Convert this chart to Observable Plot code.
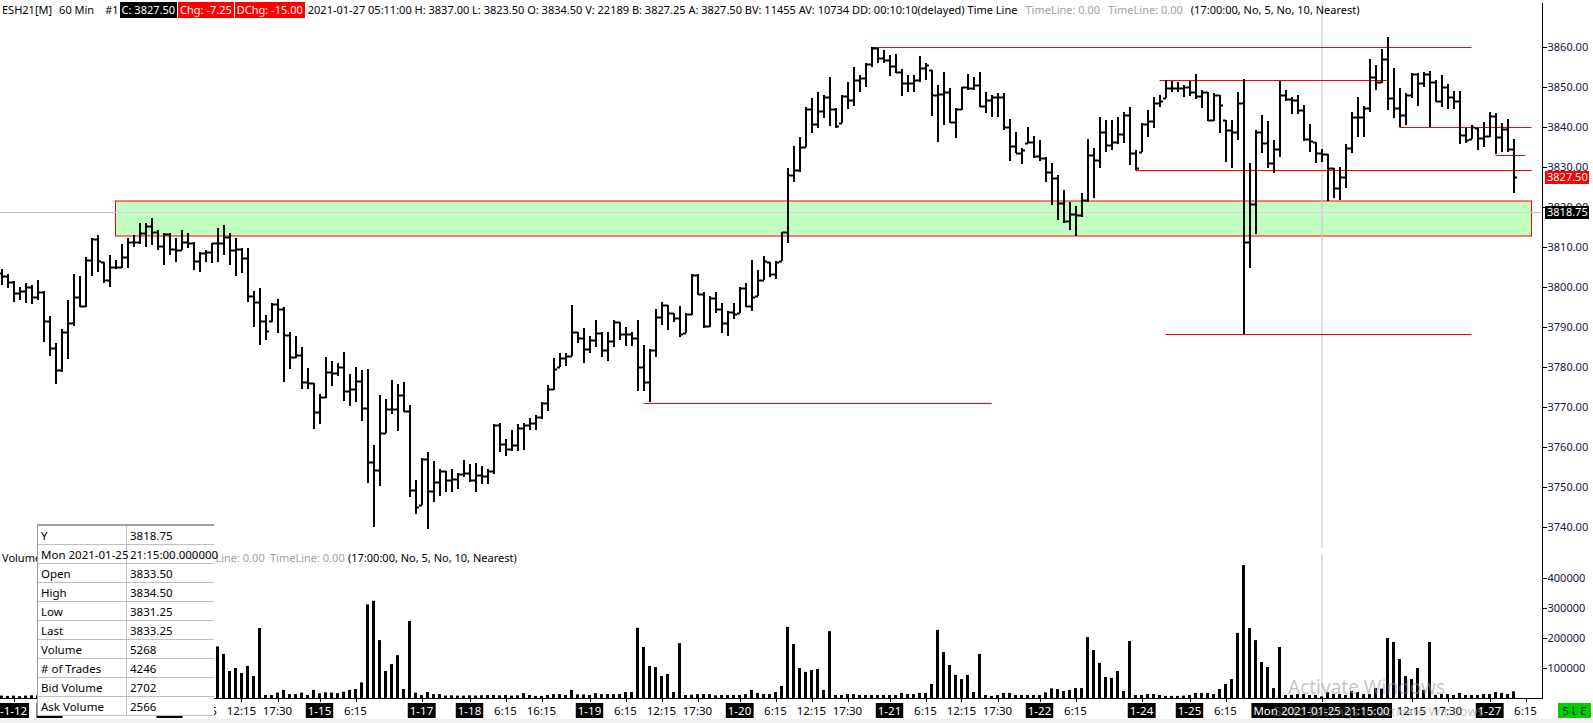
<!DOCTYPE html>
<html><head><meta charset="utf-8">
<script src="https://cdn.jsdelivr.net/npm/d3@7"></script>
<script src="https://cdn.jsdelivr.net/npm/@observablehq/plot@0.6"></script>
<style>
html,body{margin:0;padding:0;background:#fff;}
#root{position:relative;width:1593px;height:723px;overflow:hidden;font-family:"Noto Sans",sans-serif;font-size:11px;color:#000;}
#root svg{position:absolute;left:0;}
.hdr{position:absolute;left:2px;top:2px;height:16px;white-space:nowrap;display:flex;align-items:center;line-height:16px;}
.box{color:#fff;padding:0 2px;height:16px;margin-right:1px;}
.gray{color:#a0a0a0;}
#dw{position:absolute;left:37px;top:524px;width:176px;background:#fff;border-top:2px solid #a0a0a0;border-left:1px solid #a0a0a0;}
#dw table{border-collapse:collapse;width:176px;table-layout:fixed;}
#dw td{height:18px;padding:0 0 0 3px;border-bottom:1px solid #c0c0c0;white-space:nowrap;overflow:visible;font-size:11.5px;}
#dw td.k{width:85px;border-right:1px solid #c0c0c0;}
.wm{position:absolute;color:rgba(150,150,150,0.55);white-space:nowrap;}
</style></head><body><div id="root"></div>
<script>
// ---------- data ----------
const opens = [
3803.5,3802.75,3801.25,3798.5,3799,3800,3797.5,3798.75,3791.5,3784.75,
3779.25,3788.75,3791,3797.5,3795.25,3806.75,3812,3806.25,3801.75,3805,
3805,3807.5,3811.25,3811.25,3813.5,3815.25,3813.75,3810.25,3813.25,3809.5,
3809.25,3811.25,3811,3806.5,3808.5,3808.75,3811,3811,3812.5,3809.25,
3809.5,3807.25,3797.75,3796.25,3791.5,3791.5,3795.75,3794.5,3788,3782.5,
3783,3776.25,3776,3768.75,3772.5,3778.75,3778.5,3780,3774,3774.5,
3776.5,3769.75,3756.25,3754.25,3763.5,3769.5,3769.5,3773,3769,3749.25,
3745.5,3757,3749,3751.25,3754,3751.75,3752,3753.25,3753.5,3751.75,
3753,3752.75,3754,3765.5,3760.75,3759.5,3760.5,3764.75,3765.5,3766,
3767.5,3771,3774.5,3780,3782.25,3782.75,3788.75,3787.25,3784.5,3786.75,
3788.5,3784.25,3786.5,3791.25,3788.25,3788.25,3787.25,3780,3776.25,3784.25,
3792.5,3795.5,3793.5,3792.25,3788.5,3793.25,3803,3798.25,3790.25,3797.25,
3794.5,3791,3793.75,3793.5,3799.75,3795.25,3797.75,3801.75,3806.25,3803.25,
3806.5,3813.75,3828,3829.25,3835,3844.5,3840.75,3844,3847.5,3844.5,
3841,3847.75,3846.75,3851.75,3852.25,3855.75,3859.75,3857.25,3856.75,3855.25,
3853.75,3851,3851,3851.75,3854.75,3854.25,3848,3848.25,3848.75,3841.25,
3844.5,3850,3849.75,3850.5,3845.25,3846.75,3847.5,3847.5,3840,3835.25,
3833.5,3836,3836.25,3832.75,3832.25,3828.75,3827.25,3821,3816.5,3818.25,
3818,3821.75,3833,3831.75,3838.75,3835.5,3836.25,3838.25,3843,3833.5,
3833.75,3840.75,3841.5,3846,3847.25,3849.75,3849.75,3849.75,3850,3848.75,
3847.75,3848.75,3841.75,3848,3841.75,3839.25,3838.75,3846,3811.25,3820.75,
3838.75,3836,3831,3834.5,3848,3847,3846.75,3844.25,3837,3836.25,
3833.5,3833.25,3829.75,3824.75,3827.5,3834.75,3842.5,3842.5,3844.75,3852.5,
3851.25,3857,3847.25,3844.75,3843,3848,3853.25,3851,3853.25,3851.25,
3846.5,3850,3847.5,3846.5,3838,3837,3839.75,3837.25,3837.75,3842.75,
3837.5,3839.5,3834.5];
const highs = [
3804.5,3803.25,3801.5,3800,3801,3800.5,3801.75,3799,3792.75,3786,
3789.5,3796.75,3803.25,3802.75,3807.5,3812.25,3813,3806.25,3808,3806.75,
3810.75,3812.25,3813,3816,3816,3817.25,3814.25,3813.5,3813.5,3812.25,
3814.25,3813.5,3811.25,3808.75,3809.25,3811,3814.75,3815.5,3813.5,3812.25,
3809.75,3809.75,3799,3799.75,3793,3796,3797,3795,3788.75,3787.75,
3785,3779.75,3776,3773.25,3782.5,3781.5,3781,3783.75,3778.25,3780,
3779.25,3779.5,3760.5,3773,3772,3776.75,3775.75,3776.25,3770.5,3751.75,
3757.25,3758.75,3756.5,3754.5,3754,3754.5,3753.5,3756.75,3755.75,3756,
3755.25,3754.5,3765.75,3766,3762,3764.25,3765.75,3766,3767.25,3768,
3771.25,3775.5,3782.25,3783.5,3783.5,3795.5,3788.75,3789.75,3787.75,3791.75,
3788.75,3788.75,3791.75,3791.25,3790,3788.75,3791.75,3785.5,3784.5,3794.5,
3796.25,3795.5,3793.5,3795.25,3793.5,3803.25,3803.25,3798.75,3797.75,3798.75,
3796,3794,3796,3800,3801,3806.75,3804.25,3807.75,3806.25,3806.5,
3813.75,3829.75,3835.25,3837.5,3845,3847.25,3848.75,3848,3852.5,3844.75,
3848,3851.25,3855,3853,3856,3860,3859.75,3859.25,3858,3858.25,
3854.5,3853,3853,3857.75,3856,3854.25,3850.5,3853.75,3849.75,3844.75,
3850,3853.25,3852.5,3853.75,3848.75,3848,3848.5,3848.5,3842,3838.75,
3834.75,3840,3837.75,3836.75,3832.5,3831,3828,3824.25,3821.25,3820.25,
3823.5,3837,3834.75,3842.5,3841.75,3841.75,3842.5,3843.75,3845,3834.25,
3841,3844.25,3847.5,3848,3851.75,3851.5,3851.25,3850.5,3851.5,3853.25,
3849.25,3848.75,3848.5,3848,3841.75,3841.75,3848.75,3852,3831,3839.25,
3843,3841.5,3836.75,3851.5,3849.25,3847.5,3848,3845.5,3840.75,3836.25,
3834.5,3833.25,3829.75,3830,3835.75,3843.75,3847.5,3845.25,3857,3855.5,
3859.5,3862.5,3854.75,3849.75,3848.5,3853.5,3853.5,3853.75,3854,3851.75,
3853,3850.75,3849,3849,3839.75,3840.5,3839.75,3841.25,3843.75,3843.5,
3841,3842,3837];
const lows = [
3800.5,3799.75,3796.25,3796.75,3796,3795.75,3796.75,3786.25,3782.75,3775.75,
3778.75,3782,3790.25,3795,3795,3802.75,3803.75,3801,3800,3804.5,
3804.75,3804.75,3810,3810.75,3810,3810.5,3809.25,3805.5,3808,3806.25,
3809.25,3809.75,3804.25,3803.75,3806.25,3806,3806.25,3808,3805.5,3802.75,
3803.5,3796.25,3790,3785.5,3786.75,3791.25,3788.5,3776.25,3779.5,3782.25,
3774.5,3774.5,3764.5,3765.75,3772.25,3775.25,3777.75,3771.5,3770.25,3771.25,
3766.5,3751,3740,3750.25,3763.5,3768.25,3764,3768.75,3747.5,3743.25,
3745.5,3739.5,3746.25,3747.75,3748.75,3748.75,3749.5,3752.5,3751.25,3748.75,
3750.75,3750.75,3753.25,3758.75,3757.75,3759,3759,3759.25,3764.25,3764.25,
3767,3769,3774.25,3780,3780.25,3782.75,3786,3781,3783.5,3785,
3782.5,3781.5,3785,3786.75,3785.25,3785.25,3774,3774,3771.25,3782.5,
3790.5,3789.25,3791.25,3787.5,3788.5,3793,3798,3789.75,3790,3793.5,
3788.5,3787.75,3792,3793.5,3795,3794,3797.75,3801.75,3802.5,3802,
3806.5,3811,3826.25,3828.75,3835,3838.5,3839.75,3842.25,3840.25,3839.75,
3841,3844.5,3845.25,3848.75,3850,3855,3856,3856,3852.75,3853.5,
3847.75,3848.75,3848.75,3851.25,3851.75,3842.75,3836.25,3840.5,3841,3837.25,
3844.25,3849.25,3849.25,3845,3843.5,3842.5,3842.5,3839.25,3831.5,3833.5,
3830.75,3836,3832.25,3831.5,3826.25,3820.5,3816.75,3816,3814.25,3812.75,
3817.5,3821.25,3822.25,3829.75,3833.75,3834.25,3835.75,3836,3830.5,3829.25,
3833.75,3837.5,3839.75,3845,3847.25,3848.75,3848.75,3847.5,3847.75,3847,
3844.75,3841.5,3841.5,3838.5,3831.25,3829.75,3836.75,3788.25,3804.75,3813.25,
3833.5,3829.75,3828.5,3832.5,3846.5,3843.25,3843.25,3836.5,3833.75,3831,
3831.25,3821.5,3822.25,3821.75,3824.75,3833.5,3837.5,3837.5,3843.75,3849.25,
3851,3844.25,3842.25,3840,3840.5,3847.25,3845.25,3850,3840,3846.25,
3845,3844.5,3844.5,3835.75,3836,3837,3834.25,3835,3837.5,3833.25,
3833.75,3833.75,3823.5];
const closes = [
3802.75,3801.25,3798.5,3799,3800,3797.5,3798.75,3791.5,3784.75,3779.25,
3788.75,3791,3797.5,3795.25,3806.75,3812,3806.5,3801.75,3805,3805,
3807.5,3811.25,3811.25,3813.5,3815.25,3813.75,3810.25,3813.25,3809.5,3809.25,
3811.25,3811,3806.5,3808.5,3808.75,3811,3811,3812.5,3809.25,3809.5,
3807.25,3797.75,3796.25,3791.5,3789,3795.75,3794.5,3788,3782.5,3783,
3776.25,3776,3768.75,3772.5,3778.75,3778.5,3780,3774,3774.5,3776.5,
3769.75,3756.25,3754.25,3763.5,3769.5,3769.5,3773,3769,3749.25,3745,
3757,3749,3751.25,3754,3751.75,3752,3753.25,3753.5,3751.75,3753,
3752.75,3754,3765.5,3760.75,3759.5,3760.5,3764.75,3765.5,3766,3767.5,
3771,3774.5,3779.5,3782.25,3782.75,3788.75,3787.25,3784.5,3786.75,3788.5,
3784.25,3786.5,3791.25,3788.25,3788.25,3787.25,3780,3776.25,3784.25,3792.5,
3795.5,3793.5,3792.25,3788.25,3793.25,3803,3798.25,3790.25,3797.25,3794.5,
3791,3793.75,3793.25,3799.75,3795.25,3797.5,3801.75,3806.5,3803.25,3806.25,
3813.75,3828,3829.25,3835,3844.5,3840.75,3844,3847.5,3844.5,3840.25,
3847.75,3846.75,3851.75,3852.25,3855.75,3859.75,3857.25,3856.75,3855.25,3853.75,
3851,3851,3851.75,3854.75,3855.5,3848,3848.25,3848.75,3841.25,3844.5,
3850,3849.75,3850.5,3845.25,3846.75,3847.5,3847.5,3840,3835.25,3833.5,
3834.25,3836.25,3832.75,3832.25,3828.75,3827.25,3821,3816.5,3818.25,3818,
3821.75,3833,3831.75,3838.75,3835.5,3836.25,3838.25,3843,3833.5,3829.75,
3840.75,3841.5,3846,3846.5,3849.75,3849.75,3849.75,3850,3848.75,3847.75,
3848.75,3841.75,3848,3845.5,3839.25,3838.75,3846,3811.25,3820.75,3838.75,
3836,3831,3834.5,3848,3847,3846.75,3844.25,3837,3836.5,3833.5,
3833.25,3829.75,3824.75,3827.5,3834.75,3842.5,3842.5,3844.75,3852.5,3851.25,
3857,3847.25,3844.75,3843,3848,3853.25,3851,3853.25,3851.25,3846.5,
3850,3847.5,3846.5,3838,3836.75,3840,3837.25,3837.75,3842.75,3837.5,
3839.5,3834.5,3827.5];
const volumes = [
8000,7000,8000,6000,8000,9000,9000,10000,12000,15000,
40000,210000,160000,120000,95000,80000,90000,25000,180000,12000,
10000,9000,10000,9000,8000,8000,9000,8000,9000,10000,
10000,12000,15000,18000,22000,45000,172000,147000,90000,100000,
83000,107000,73000,233000,10000,10000,18000,27000,13000,13000,
18000,10000,27000,16000,19000,18000,16000,21000,27000,30000,
52000,312000,324000,193000,90000,113000,143000,30000,257000,18000,
10000,20000,13000,13000,8000,9000,8000,8000,9000,8000,
9000,10000,10000,9000,10000,8000,9000,16000,10000,7000,
7000,10000,13000,13000,10000,27000,12000,12000,10000,16000,
13000,13000,13000,13000,20000,20000,234000,170000,107000,103000,
73000,80000,20000,183000,10000,11000,13000,13000,13000,9000,
10000,10000,10000,10000,13000,27000,17000,13000,13000,20000,
40000,237000,180000,100000,87000,93000,97000,27000,223000,10000,
10000,13000,13000,10000,10000,10000,10000,10000,10000,10000,
17000,13000,13000,17000,17000,47000,227000,153000,110000,77000,
63000,77000,20000,147000,10000,7000,10000,17000,17000,10000,
10000,10000,10000,10000,19000,32000,30000,23000,27000,33000,
33000,203000,160000,117000,70000,67000,90000,23000,190000,10000,
10000,13000,13000,10000,7000,7000,7000,8000,10000,17000,
17000,17000,13000,30000,47000,63000,217000,443000,233000,193000,
120000,103000,33000,170000,10000,10000,13000,13000,10000,10000,
5268,19000,13000,13000,10000,23000,20000,13000,13000,33000,
31000,200000,187000,130000,73000,63000,100000,27000,187000,10000,
13000,13000,10000,17000,10000,10000,10000,13000,13000,20000,
17000,13000,22189];

// horizontal levels (price, from bar, to bar)
const levelPrice = [3860, 3851.75, 3840, 3833, 3829.25, 3788.25, 3771];
const levelFrom  = [145, 193, 233, 249, 189, 194, 107];
const levelTo    = [245, 231, 255, 254, 255, 245, 165];
// support zone
const zoneLow = 3812.75, zoneHigh = 3821.5, zoneFrom = 19, zoneTo = 255;
// crosshair
const crossBar = 220, crossPrice = 3818.75;
const lastPrice = 3827.50;
const priceTicks = [3740,3750,3760,3770,3780,3790,3800,3810,3820,3830,3840,3850,3860];
const volTicks = [100000,200000,300000,400000];
// visible date labels, plus date boxes hidden behind the data window (no visible text)
const dateLabels = ["-1-12","1-15","1-17","1-18","1-19","1-20","1-21","1-22","1-24","1-25","1-27"];
const dateIdx    = [2, 53, 70, 78, 98, 123, 148, 173, 190, 198, 248];
const hiddenDateIdx = [8, 28];
const timeLabels = ["6:15","12:15","17:30","6:15","6:15","16:15","6:15","12:15","17:30","6:15","12:15","17:30","6:15","12:15","17:30","6:15","6:15","12:15","17:30","6:15"];
const timeIdx    = [34,40,46,59,84,90,104,110,116,129,135,141,154,160,166,179,204,235,241,254];
const crossLabel = "Mon 2021-01-25 21:15:00";
const dataWindow = [["Y","3818.75"],["Mon 2021-01-25","21:15:00.000000"],["Open","3833.50"],["High","3834.50"],["Low","3831.25"],["Last","3833.25"],["Volume","5268"],["# of Trades","4246"],["Bid Volume","2702"],["Ask Volume","2566"]];

// ---------- build ----------
const root = document.getElementById("root");
const bars = highs.map((h,i)=>({i, o:opens[i], h, l:lows[i], c:closes[i]}));
const vols = volumes.map((v,i)=>({i, v}));
const levels = levelPrice.map((p,k)=>({p, a:levelFrom[k], b:levelTo[k]}));
const FONT = "Noto Sans, sans-serif";
const xOpt = {type:"linear", domain:[0,252], range:[1.5,1513.5], axis:null};

const price = Plot.plot({
  width:1593, height:549, marginTop:3, marginRight:51, marginBottom:1, marginLeft:0,
  style:{fontFamily:FONT, fontSize:"11px", background:"#fff", overflow:"visible"},
  x:xOpt,
  y:{domain:[3740,3860], range:[527,47], axis:null},
  marks:[
    Plot.rect([{a:zoneFrom,b:zoneTo,lo:zoneLow,hi:zoneHigh}], {x1:"a", x2:"b", y1:"lo", y2:"hi", fill:"#c0ffc0", stroke:"#ff0000", strokeWidth:1}),
    Plot.ruleY([crossPrice], {stroke:"#c0c0c0"}),
    Plot.ruleY([{p:crossPrice}], {y:"p", x1:()=>zoneFrom, x2:()=>zoneTo, stroke:"#ecc8ec"}),
    Plot.ruleX([crossBar], {stroke:"#c0c0c0"}),
    Plot.ruleX([{i:crossBar}], {x:"i", y1:()=>zoneLow, y2:()=>zoneHigh, stroke:"#ecc8ec"}),
    Plot.ruleY(levels, {y:"p", x1:"a", x2:"b", stroke:"#ff0000", strokeWidth:1}),
    Plot.ruleX(bars, {x:"i", y1:"l", y2:"h", stroke:"#000", strokeWidth:2}),
    Plot.link(bars, {x1:d=>d.i-0.5, x2:"i", y1:"o", y2:"o", stroke:"#000", strokeWidth:2}),
    Plot.link(bars, {x1:"i", x2:d=>d.i+0.5, y1:"c", y2:"c", stroke:"#000", strokeWidth:2}),
    Plot.axisY(priceTicks, {anchor:"right", tickSize:4, tickPadding:1, tickFormat:d3.format(".2f"), label:null, fill:"#14143c", stroke:"#000"}),
    Plot.frame({anchor:"right", stroke:"#000"}),
    Plot.frame({anchor:"bottom", stroke:"#000"})
  ]
});
price.style.top = "0px";
root.appendChild(price);

// price labels (last & crosshair)
{
  const ys = price.scale("y");
  const g = d3.select(price).append("g").attr("font-family", FONT).attr("font-size", 11).attr("text-anchor", "start");
  [[lastPrice, "#ff0000"], [crossPrice, "#000"]].forEach(([p, bg]) => {
    const y = ys.apply(p);
    g.append("rect").attr("x", 1545).attr("y", Math.round(y) - 6).attr("width", 44).attr("height", 13).attr("fill", bg);
    g.append("text").attr("x", 1547).attr("y", y).attr("dy", "0.35em").attr("text-anchor", "start").attr("fill", "#fff").text(d3.format(".2f")(p));
  });
}

const vol = Plot.plot({
  width:1593, height:175, marginTop:0, marginRight:51, marginBottom:25, marginLeft:0,
  style:{fontFamily:FONT, fontSize:"11px", background:"#fff", overflow:"visible"},
  x:xOpt,
  y:{domain:[0,400000], range:[150,30], axis:null},
  marks:[
    Plot.ruleX([crossBar], {stroke:"#c0c0c0", y1:()=>0, y2:()=>480000}),
    Plot.rect(vols, {x1:d=>d.i-0.25, x2:d=>d.i+0.25, y1:()=>0, y2:"v", fill:"#000"}),
    Plot.axisY(volTicks, {anchor:"right", tickSize:4, tickPadding:1, tickFormat:d3.format("d"), label:null, fill:"#14143c", stroke:"#000"}),
    Plot.frame({anchor:"right", stroke:"#000"}),
    Plot.frame({anchor:"bottom", stroke:"#000"})
  ]
});
vol.style.top = "548px";
root.appendChild(vol);

// bottom time axis labels
{
  const xs = vol.scale("x");
  const g = d3.select(vol).append("g").attr("font-family", FONT).attr("font-size", 11.5);
  const y = 163;
  const tick = idx => g.append("line").attr("x1", Math.round(xs.apply(idx))+0.5).attr("x2", Math.round(xs.apply(idx))+0.5).attr("y1", 150).attr("y2", 154).attr("stroke", "#000");
  timeIdx.forEach((idx,k)=>{ tick(idx); g.append("text").attr("x", xs.apply(idx)).attr("y", y).attr("dy","0.35em").attr("text-anchor","middle").attr("fill","#000").text(timeLabels[k]); });
  hiddenDateIdx.forEach(idx => { g.append("rect").attr("fill","#000").attr("x", xs.apply(idx) - 13).attr("y", 155).attr("width", 26).attr("height", 15); });
  const boxLabel = (idx, txt) => {
    tick(idx);
    const r = g.append("rect").attr("fill","#000");
    const t = g.append("text").attr("x", xs.apply(idx)).attr("y", y).attr("dy","0.35em").attr("text-anchor","middle").attr("fill","#fff").text(txt);
    const bb = t.node().getBBox();
    r.attr("x", bb.x - 2).attr("y", 155).attr("width", bb.width + 4).attr("height", 15);
  };
  dateIdx.forEach((idx,k)=>boxLabel(idx, dateLabels[k]));
  boxLabel(crossBar, crossLabel);
}

// header
const hdr = document.createElement("div");
hdr.className = "hdr";
hdr.innerHTML = '<span>ESH21[M]</span><span style="margin-left:7px">60 Min</span><span style="margin-left:11px">#1</span>' +
  '<span class="box" style="background:#000;margin-left:1px">C: 3827.50</span>' +
  '<span class="box" style="background:#ff0000">Chg: -7.25</span>' +
  '<span class="box" style="background:#ff0000">DChg: -15.00</span>' +
  '<span style="margin-left:2px">2021-01-27 05:11:00 H: 3837.00 L: 3823.50 O: 3834.50 V: 22189 B: 3827.25 A: 3827.50 BV: 11455 AV: 10734 DD: 00:10:10(delayed) Time Line</span>' +
  '<span class="gray" style="margin-left:8px">TimeLine: 0.00</span><span class="gray" style="margin-left:8px">TimeLine: 0.00</span>' +
  '<span style="margin-left:8px">(17:00:00, No, 5, No, 10, Nearest)</span>';
root.appendChild(hdr);

// volume region header
const vh = document.createElement("div");
vh.className = "hdr";
vh.style.top = "550px";
vh.innerHTML = '<span>Volume</span><span class="gray" style="position:absolute;left:188px">TimeLine: 0.00</span><span class="gray" style="position:absolute;left:268px">TimeLine: 0.00</span><span style="position:absolute;left:346px">(17:00:00, No, 5, No, 10, Nearest)</span>';
root.appendChild(vh);

// data window
const dw = document.createElement("div");
dw.id = "dw";
dw.innerHTML = "<table>" + dataWindow.map(([k,v])=>`<tr><td class="k">${k}</td><td>${v}</td></tr>`).join("") + "</table>";
root.appendChild(dw);

// status box and bottom strip
const strip = document.createElement("div");
strip.style.cssText = "position:absolute;left:0;top:719px;width:1593px;height:4px;background:#f0f0f0;";
root.appendChild(strip);
const sle = document.createElement("div");
sle.style.cssText = "position:absolute;left:1558px;top:703px;width:33px;height:15px;background:#00cc00;color:#003300;font-size:11px;line-height:15px;text-align:center;";
sle.textContent = "5 L E";
root.appendChild(sle);

// watermark
const wm1 = document.createElement("div");
wm1.className = "wm"; wm1.style.cssText += "left:1288px;top:674px;font-size:19px;";
wm1.textContent = "Activate Windows";
root.appendChild(wm1);
const wm2 = document.createElement("div");
wm2.className = "wm"; wm2.style.cssText += "left:1272px;top:702px;font-size:13px;";
wm2.textContent = "Go to Settings to activate Windows.";
root.appendChild(wm2);
</script></body></html>
